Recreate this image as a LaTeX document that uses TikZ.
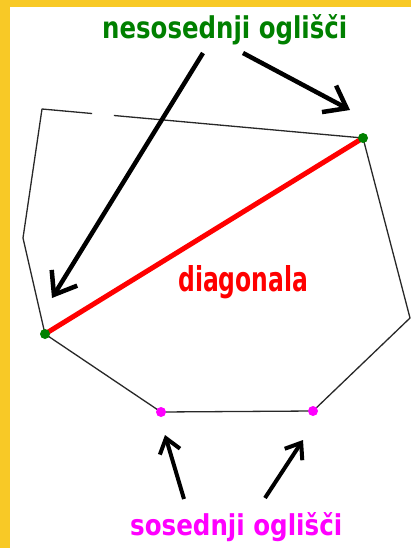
\documentclass[tikz,border=0pt]{standalone}
\usepackage{fontspec}
\setmainfont{DejaVu Sans}
\usetikzlibrary{arrows.meta,calc}
\definecolor{frameyellow}{RGB}{248,201,38}
\definecolor{dkgreen}{RGB}{0,128,0}
\definecolor{vmagenta}{RGB}{255,0,255}
\definecolor{edgegray}{RGB}{40,40,40}
\tikzset{
  lbl/.style={inner sep=0pt, anchor=base west, font=\bfseries},
  vdot/.style={circle, inner sep=0pt, minimum size=10pt},
  edgeline/.style={draw=edgegray, line width=1.3pt, line join=round},
  bigpointer/.style={line width=4.5pt, -{Straight Barb[length=20pt,width=30pt]}},
  smallpointer/.style={line width=4pt, -{Straight Barb[length=14pt,width=21pt]}},
}
\begin{document}
\begin{tikzpicture}[x=1pt,y=-1pt]
\fill[frameyellow] (0,0) rectangle (411,548);
\fill[white] (10,7) rectangle (411,548);
\useasboundingbox (0,0) rectangle (411,548);
% polygon vertices
\coordinate (A) at (42,109);
\coordinate (B) at (363,138);
\coordinate (C) at (410,318);
\coordinate (D) at (313,411);
\coordinate (E) at (161,412);
\coordinate (F) at (45,334);
\coordinate (G) at (23,238);
\draw[edgeline] ($(A)!0.224!(B)$) -- (B) -- (C) -- (D) -- (E) -- (F) -- (G) -- (A) -- ($(A)!0.156!(B)$);
% diagonal
\draw[red, line width=5pt] (F) -- (B);
% vertex dots
\node[vdot, fill=dkgreen] (vB) at (B) {};
\node[vdot, fill=dkgreen] (vF) at (F) {};
\node[vdot, fill=vmagenta] (vD) at (D) {};
\node[vdot, fill=vmagenta] (vE) at (E) {};
% labels
\node[lbl, text=dkgreen] (top) at (102,39) {\resizebox{245pt}{24pt}{nesosednji oglišči}};
\node[lbl, text=red] (diag) at (178,291) {\resizebox{130pt}{26pt}{diagonala}};
\node[lbl, text=vmagenta] (bot) at (130,535) {\resizebox{212pt}{23pt}{sosednji oglišči}};
% arrows
\coordinate (a1s) at (203,53);
\coordinate (a1t) at (52,298);
\coordinate (a2s) at (243,53);
\coordinate (a2t) at (350,110);
\coordinate (a3s) at (184,499);
\coordinate (a3t) at (165,435);
\coordinate (a4s) at (265,498);
\coordinate (a4t) at (303,440);
\draw[bigpointer] (a1s) -- (a1t);
\draw[bigpointer] (a2s) -- (a2t);
\draw[smallpointer] (a3s) -- (a3t);
\draw[smallpointer] (a4s) -- (a4t);
\end{tikzpicture}
\end{document}
